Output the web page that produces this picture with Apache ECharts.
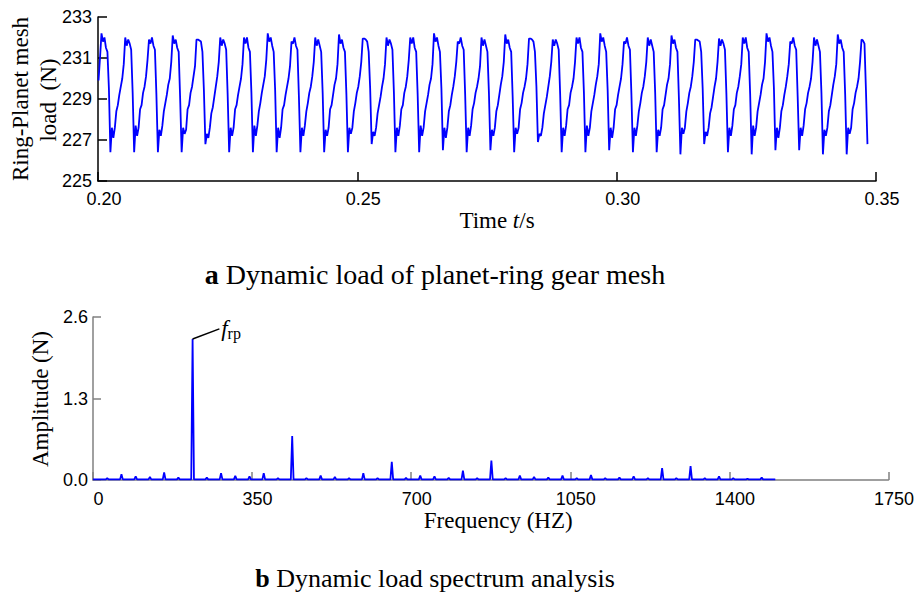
<!DOCTYPE html>
<html>
<head>
<meta charset="utf-8">
<script src="https://cdn.jsdelivr.net/npm/echarts@6/dist/echarts.min.js"></script>
<style>
html, body { margin: 0; padding: 0; background: #fff; }
#main { width: 917px; height: 594px; }
</style>
</head>
<body>
<div id="main"></div>
<script>
// time axis of panel a: first sample and sample step (s)
var tStart = 0.2001;
var tStep = 0.0002862;
var timeTicks = [0.20, 0.25, 0.30, 0.35];
var loadTicks = [225, 227, 229, 231, 233];

// ring-planet mesh load (N), one row per mesh cycle
var meshLoad = [
    229.9, 231.0,
    232.2, 231.8, 232.0, 231.5, 231.3, 229.5, 226.4, 227.6, 227.1, 227.6, 228.4, 228.7, 229.2, 229.6, 230.0, 230.7,
    232.0, 231.6, 231.9, 231.7, 231.4, 229.3, 226.4, 227.7, 227.2, 227.6, 228.5, 228.7, 229.3, 229.6, 230.1, 230.9,
    231.9, 231.7, 232.0, 231.6, 231.4, 229.2, 226.4, 227.5, 227.2, 227.7, 228.4, 228.8, 229.2, 229.7, 230.0, 230.8,
    232.1, 231.7, 231.9, 231.5, 231.3, 229.0, 226.4, 227.6, 227.3, 227.5, 228.5, 228.7, 229.3, 229.6, 230.1, 230.6,
    231.9, 231.9, 231.85, 231.8, 231.3, 229.4, 226.8, 227.3, 227.1, 227.6, 228.3, 228.6, 229.1, 229.6, 230.1, 230.8,
    232.0, 231.6, 231.9, 231.7, 231.4, 229.2, 226.4, 227.6, 227.2, 227.6, 228.5, 228.7, 229.2, 229.6, 230.0, 230.7,
    232.0, 231.7, 232.0, 231.5, 231.3, 229.3, 226.4, 227.7, 227.2, 227.7, 228.4, 228.8, 229.3, 229.7, 230.1, 230.9,
    232.2, 231.8, 232.0, 231.6, 231.3, 229.4, 226.4, 227.6, 227.1, 227.6, 228.5, 228.7, 229.2, 229.6, 230.0, 230.6,
    231.8, 231.7, 232.0, 231.6, 231.4, 229.1, 226.4, 227.6, 227.2, 227.7, 228.4, 228.8, 229.3, 229.6, 230.1, 230.8,
    232.0, 231.6, 231.9, 231.6, 231.3, 229.3, 226.4, 227.5, 227.2, 227.6, 228.5, 228.7, 229.2, 229.7, 230.0, 230.7,
    232.15, 231.7, 231.9, 231.5, 231.3, 229.2, 226.4, 227.6, 227.3, 227.6, 228.4, 228.8, 229.3, 229.6, 230.1, 230.8,
    231.95, 231.95, 231.9, 231.8, 231.3, 229.5, 226.8, 227.4, 227.2, 227.6, 228.3, 228.7, 229.1, 229.6, 230.0, 230.7,
    232.0, 231.6, 231.9, 231.7, 231.4, 229.3, 226.4, 227.6, 227.2, 227.7, 228.5, 228.7, 229.3, 229.6, 230.1, 230.9,
    232.0, 231.7, 232.0, 231.5, 231.3, 229.2, 226.4, 227.7, 227.2, 227.6, 228.4, 228.8, 229.2, 229.7, 230.0, 230.7,
    232.2, 231.8, 232.0, 231.6, 231.3, 229.5, 226.5, 227.6, 227.1, 227.6, 228.4, 228.7, 229.2, 229.6, 230.1, 230.8,
    231.8, 231.7, 232.0, 231.6, 231.4, 229.2, 226.4, 227.6, 227.2, 227.7, 228.5, 228.8, 229.3, 229.6, 230.0, 230.6,
    232.0, 231.6, 231.9, 231.6, 231.3, 229.3, 226.5, 227.5, 227.2, 227.6, 228.4, 228.7, 229.2, 229.7, 230.1, 230.8,
    232.15, 231.7, 231.9, 231.5, 231.3, 229.1, 226.4, 227.6, 227.3, 227.6, 228.5, 228.8, 229.3, 229.6, 230.0, 230.7,
    231.95, 231.95, 231.9, 231.8, 231.3, 229.6, 226.9, 227.3, 227.2, 227.6, 228.3, 228.7, 229.1, 229.6, 230.1, 230.8,
    231.9, 231.6, 231.9, 231.7, 231.4, 229.2, 226.4, 227.6, 227.2, 227.7, 228.5, 228.7, 229.3, 229.6, 230.0, 230.8,
    232.0, 231.7, 232.0, 231.5, 231.3, 229.3, 226.4, 227.7, 227.2, 227.6, 228.4, 228.8, 229.2, 229.7, 230.1, 230.7,
    232.2, 231.8, 232.0, 231.6, 231.3, 229.4, 226.5, 227.6, 227.1, 227.6, 228.5, 228.7, 229.2, 229.6, 230.0, 230.7,
    231.8, 231.7, 232.0, 231.6, 231.4, 229.2, 226.4, 227.6, 227.2, 227.7, 228.4, 228.8, 229.3, 229.6, 230.1, 230.8,
    232.0, 231.6, 231.9, 231.6, 231.3, 229.3, 226.4, 227.5, 227.2, 227.6, 228.5, 228.7, 229.2, 229.7, 230.0, 230.7,
    232.1, 231.7, 231.9, 231.5, 231.3, 229.0, 226.3, 227.6, 227.3, 227.6, 228.4, 228.8, 229.3, 229.6, 230.1, 230.8,
    231.9, 231.9, 231.85, 231.8, 231.3, 229.5, 226.8, 227.4, 227.2, 227.6, 228.3, 228.6, 229.1, 229.6, 230.0, 230.8,
    231.95, 231.6, 231.9, 231.7, 231.4, 229.2, 226.4, 227.6, 227.2, 227.7, 228.5, 228.7, 229.3, 229.6, 230.1, 230.7,
    232.0, 231.7, 232.0, 231.5, 231.3, 229.2, 226.3, 227.7, 227.2, 227.6, 228.4, 228.8, 229.2, 229.7, 230.0, 230.8,
    232.2, 231.8, 232.0, 231.6, 231.3, 229.5, 226.5, 227.6, 227.1, 227.6, 228.4, 228.7, 229.2, 229.6, 230.1, 230.7,
    231.8, 231.7, 232.0, 231.6, 231.4, 229.1, 226.5, 227.6, 227.2, 227.7, 228.5, 228.8, 229.3, 229.6, 230.0, 230.8,
    232.0, 231.6, 231.9, 231.6, 231.3, 229.3, 226.3, 227.5, 227.2, 227.6, 228.4, 228.7, 229.2, 229.7, 230.1, 230.7,
    232.15, 231.7, 231.9, 231.5, 231.3, 229.2, 226.3, 227.6, 227.3, 227.6, 228.5, 228.8, 229.3, 229.6, 230.0, 230.8,
    231.9, 231.85, 231.7, 229.4, 226.8
];

// spectrum of panel b: harmonics of 31.3 Hz (Hz) and their amplitudes (N)
var freqTicks = [0, 350, 700, 1050, 1400, 1750];
var ampTicks = [0.0, 1.3, 2.6];
var harmonicFreq = [31.3, 62.6, 93.9, 125.2, 156.5, 187.8, 219.1, 250.4, 281.7, 313.0,
    344.3, 375.6, 406.9, 438.2, 469.5, 500.8, 532.1, 563.4, 594.7, 626.0,
    657.3, 688.6, 719.9, 751.2, 782.5, 813.8, 845.1, 876.4, 907.7, 939.0,
    970.3, 1001.6, 1032.9, 1064.2, 1095.5, 1126.8, 1158.1, 1189.4, 1220.7, 1252.0,
    1283.3, 1314.6, 1345.9, 1377.2, 1408.5, 1439.8, 1471.1];
var harmonicAmp = [0.03, 0.09, 0.06, 0.05, 0.12, 0.04, 2.25, 0.04, 0.11, 0.065,
    0.06, 0.11, 0.03, 0.70, 0.03, 0.07, 0.05, 0.03, 0.11, 0.03,
    0.29, 0.035, 0.07, 0.06, 0.035, 0.15, 0.03, 0.31, 0.03, 0.07,
    0.05, 0.04, 0.07, 0.03, 0.08, 0.03, 0.04, 0.06, 0.03, 0.19,
    0.03, 0.22, 0.03, 0.06, 0.03, 0.02, 0.04];
var specFloor = 0.01;
var specEnd = 1501;
var peakLabel = { f: 219.1, amp: 2.25, tipF: 278, tipAmp: 2.41 };

var sans = 'Liberation Sans, Arial, sans-serif';
var serif = 'Liberation Serif, Times New Roman, serif';

function loadSeries() {
    var arr = [];
    for (var i = 0; i < meshLoad.length; i++) {
        arr.push([tStart + i * tStep, meshLoad[i]]);
    }
    return arr;
}

function spectrumSeries() {
    var arr = [[0, specFloor]];
    for (var i = 0; i < harmonicFreq.length; i++) {
        arr.push([harmonicFreq[i] - 3, specFloor]);
        arr.push([harmonicFreq[i], harmonicAmp[i]]);
        arr.push([harmonicFreq[i] + 3, specFloor]);
    }
    arr.push([specEnd, specFloor]);
    return arr;
}

var myChart = echarts.init(document.getElementById('main'), null, { renderer: 'svg' });

var blackAxis = { lineStyle: { color: '#000', width: 1.5 } };
var greyAxis = { lineStyle: { color: '#808080', width: 1.5 } };
var tickLabel = { color: '#000', fontSize: 18, fontFamily: sans };

var option = {
    animation: false,
    backgroundColor: '#fff',
    grid: [
        { left: 98, top: 17, width: 778, height: 164 },
        { left: 93, top: 317, width: 799, height: 163 }
    ],
    xAxis: [{
        gridIndex: 0,
        type: 'value',
        min: timeTicks[0],
        max: timeTicks[timeTicks.length - 1],
        interval: 0.05,
        axisLine: blackAxis,
        axisTick: { inside: true, length: 9, lineStyle: { color: '#000', width: 1.5 } },
        splitLine: { show: false },
        axisLabel: Object.assign({
            margin: 9, padding: [0, 0, 0, 12],
            alignMinLabel: 'center', alignMaxLabel: 'center',
            formatter: function (v) { return v.toFixed(2); }
        }, tickLabel),
        name: '{n|Time }{i|t}{n|/s}',
        nameLocation: 'middle',
        nameGap: 21,
        nameTextStyle: {
            padding: [0, 0, 0, 20],
            rich: {
                n: { fontSize: 23, fontFamily: serif, color: '#000' },
                i: { fontSize: 23, fontFamily: serif, fontStyle: 'italic', color: '#000' }
            }
        }
    }, {
        gridIndex: 1,
        type: 'value',
        min: freqTicks[0],
        max: freqTicks[freqTicks.length - 1],
        interval: 350,
        axisLine: greyAxis,
        axisTick: { inside: true, length: 8, lineStyle: { color: '#808080', width: 1.5 } },
        splitLine: { show: false },
        axisLabel: Object.assign({
            margin: 10, padding: [0, 0, 0, 11],
            alignMinLabel: 'center', alignMaxLabel: 'center',
            formatter: function (v) { return String(v); }
        }, tickLabel),
        name: 'Frequency (HZ)',
        nameLocation: 'middle',
        nameGap: 29,
        nameTextStyle: { fontSize: 23, fontFamily: serif, color: '#000', padding: [0, 0, 0, 15] }
    }],
    yAxis: [{
        gridIndex: 0,
        type: 'value',
        min: loadTicks[0],
        max: loadTicks[loadTicks.length - 1],
        interval: 2,
        axisLine: { show: true, lineStyle: { color: '#000', width: 1.5 } },
        axisTick: { show: true, inside: true, length: 9, lineStyle: { color: '#000', width: 1.5 } },
        splitLine: { show: false },
        axisLabel: Object.assign({ margin: 6 }, tickLabel)
    }, {
        gridIndex: 1,
        type: 'value',
        min: ampTicks[0],
        max: ampTicks[ampTicks.length - 1],
        interval: 1.3,
        axisLine: { show: true, lineStyle: { color: '#808080', width: 1.5 } },
        axisTick: { show: true, inside: true, length: 8, lineStyle: { color: '#808080', width: 1.5 } },
        splitLine: { show: false },
        axisLabel: Object.assign({ margin: 5, formatter: function (v) { return v.toFixed(1); } }, tickLabel)
    }],
    graphic: [{
        type: 'text', x: 20, y: 99, rotation: Math.PI / 2,
        style: { text: 'Ring-Planet mesh', font: '23px ' + serif, fill: '#000', textAlign: 'center', textVerticalAlign: 'middle' }
    }, {
        type: 'text', x: 48, y: 100, rotation: Math.PI / 2,
        style: { text: 'load  (N)', font: '23px ' + serif, fill: '#000', textAlign: 'center', textVerticalAlign: 'middle' }
    }, {
        type: 'text', x: 40, y: 399, rotation: Math.PI / 2,
        style: { text: 'Amplitude (N)', font: '23px ' + serif, fill: '#000', textAlign: 'center', textVerticalAlign: 'middle' }
    }, {
        type: 'text', x: 435, y: 274,
        style: {
            text: '{b|a} {n|Dynamic load of planet-ring gear mesh}',
            textAlign: 'center', textVerticalAlign: 'middle',
            rich: {
                b: { fontSize: 28, fontFamily: serif, fontWeight: 'bold', fill: '#000' },
                n: { fontSize: 28, fontFamily: serif, fill: '#000' }
            },
            font: '28px ' + serif
        }
    }, {
        type: 'text', x: 435, y: 578,
        style: {
            text: '{b|b} {n|Dynamic load spectrum analysis}',
            textAlign: 'center', textVerticalAlign: 'middle',
            rich: {
                b: { fontSize: 26, fontFamily: serif, fontWeight: 'bold', fill: '#000' },
                n: { fontSize: 26, fontFamily: serif, fill: '#000' }
            },
            font: '26px ' + serif
        }
    }],
    series: [{
        type: 'line',
        xAxisIndex: 0,
        yAxisIndex: 0,
        symbol: 'none',
        lineStyle: { color: '#0000ff', width: 1.8 },
        data: loadSeries()
    }, {
        type: 'line',
        xAxisIndex: 1,
        yAxisIndex: 1,
        symbol: 'none',
        lineStyle: { color: '#0000ff', width: 1.8 },
        data: spectrumSeries(),
        markLine: {
            silent: true,
            symbol: 'none',
            animation: false,
            lineStyle: { color: '#000', width: 1.5, type: 'solid' },
            label: {
                show: true,
                position: 'end',
                distance: 2,
                formatter: '{f|f}{s|rp}',
                rich: {
                    f: { fontSize: 23, fontFamily: serif, fontStyle: 'italic', color: '#000' },
                    s: { fontSize: 16, fontFamily: serif, color: '#000', padding: [10, 0, 0, 0] }
                }
            },
            data: [[
                { coord: [peakLabel.f, peakLabel.amp] },
                { coord: [peakLabel.tipF, peakLabel.tipAmp] }
            ]]
        }
    }]
};
myChart.setOption(option);
</script>
</body>
</html>
